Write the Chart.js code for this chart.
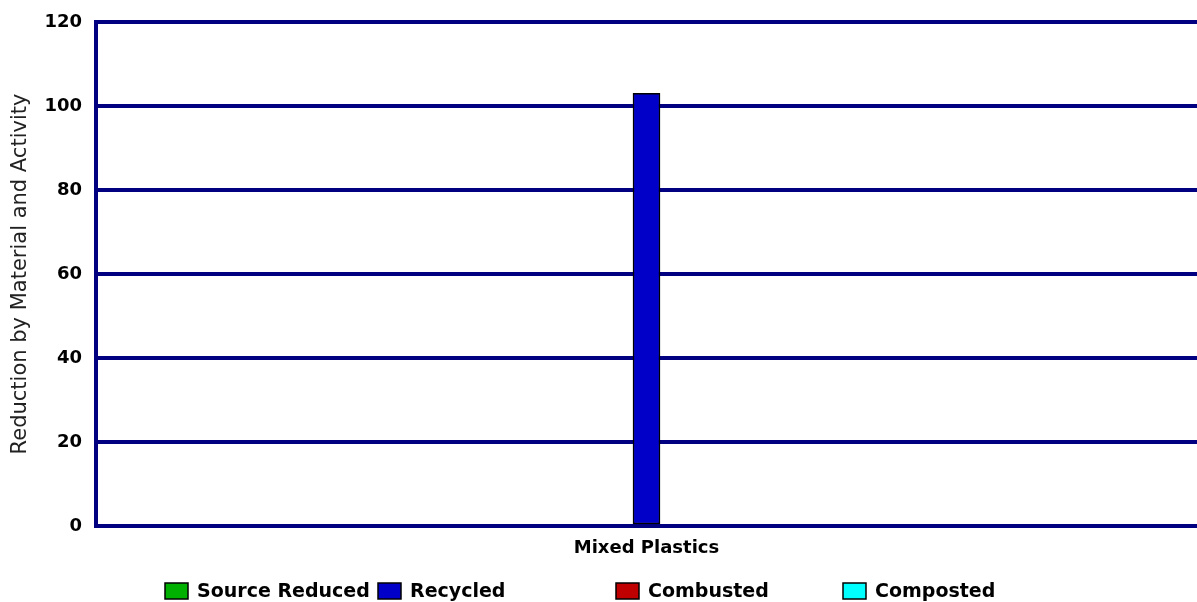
<!DOCTYPE html>
<html>
<head>
<meta charset="utf-8">
<script src="https://cdn.jsdelivr.net/npm/chart.js@4/dist/chart.umd.min.js"></script>
<style>
  html, body { margin: 0; padding: 0; background: #fff; }
  #wrap { position: relative; width: 1197px; height: 602px; }
</style>
</head>
<body>
<div id="wrap"><canvas id="chart"></canvas></div>
<script>
// ---- data ----
const categories = ['Mixed Plastics'];
const seriesNames = ['Source Reduced', 'Recycled', 'Combusted', 'Composted'];
const sourceReduced = [null];
const recycled = [103];
const combusted = [null];
const composted = [null];
const yTicks = [0, 20, 40, 60, 80, 100, 120];

const fills = ['#00b000', '#0000c8', '#c00000', '#00ffff'];
const NAVY = '#000080';
const seriesData = [sourceReduced, recycled, combusted, composted];

const datasets = seriesNames.map(function(name, i) {
  return {
    label: name,
    data: seriesData[i],
    backgroundColor: fills[i],
    borderColor: '#000',
    borderWidth: 1.5,
    borderSkipped: false,
    barThickness: 27,
  };
});

// legend drawn in fixed columns like the original report graphic
const legendCols = [165, 378, 616, 843];
const columnLegend = {
  id: 'columnLegend',
  afterDraw: function(chart) {
    const ctx = chart.ctx;
    const y = 591;
    ctx.save();
    ctx.font = 'bold 19px "DejaVu Sans"';
    ctx.textBaseline = 'middle';
    chart.data.datasets.forEach(function(ds, i) {
      const x = legendCols[i];
      ctx.fillStyle = ds.backgroundColor;
      ctx.fillRect(x, y - 8, 23, 16);
      ctx.strokeStyle = '#000';
      ctx.lineWidth = 1.5;
      ctx.strokeRect(x, y - 8, 23, 16);
      ctx.fillStyle = '#000';
      ctx.fillText(ds.label, x + 32, y + 1);
    });
    ctx.restore();
  }
};

new Chart(document.getElementById('chart'), {
  type: 'bar',
  data: { labels: categories, datasets },
  plugins: [columnLegend],
  options: {
    responsive: true,
    maintainAspectRatio: false,
    animation: false,
    skipNull: true,
    layout: { padding: { top: 22, right: 0, left: 8, bottom: 36 } },
    plugins: {
      tooltip: { enabled: false },
      legend: { display: false }
    },
    scales: {
      x: {
        afterFit: function(scale) { scale.height = 40; },
        grid: { display: false, drawTicks: false },
        border: { color: NAVY, width: 4 },
        ticks: {
          color: '#000',
          font: { family: 'DejaVu Sans', weight: 'bold', size: 18 },
          padding: 12,
        }
      },
      y: {
        min: 0, max: 120,
        afterFit: function(scale) { scale.width = 88; scale.paddingTop = 0; scale.paddingBottom = 0; },
        afterBuildTicks: function(scale) { scale.ticks = yTicks.map(function(v) { return { value: v }; }); },
        grid: { color: NAVY, lineWidth: 4, drawTicks: false },
        border: { color: NAVY, width: 4 },
        ticks: {
          color: '#000',
          font: { family: 'DejaVu Sans', weight: 'bold', size: 18 },
          padding: 14,
        },
        title: {
          display: true,
          text: 'Reduction by Material and Activity',
          color: '#222',
          font: { family: 'DejaVu Sans', size: 21 },
          padding: { top: 0, bottom: 8 }
        }
      }
    }
  }
});
</script>
</body>
</html>
